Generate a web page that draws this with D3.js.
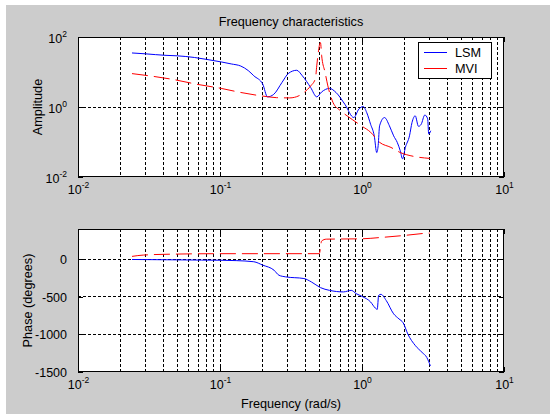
<!DOCTYPE html>
<html>
<head>
<meta charset="utf-8">
<script src="https://cdn.jsdelivr.net/npm/d3@7/dist/d3.min.js"></script>
<style>
  html, body { margin: 0; padding: 0; background: #ffffff; }
  svg { display: block; font-family: "Liberation Sans", Arial, sans-serif; }
</style>
</head>
<body>
<svg id="chart" width="550" height="414"></svg>
<script>
// Frequency response: amplitude (log-log) and phase, two identification methods
const seriesNames = ["LSM", "MVI"];

// LSM amplitude
const lsmAmpFreq = [0.024, 0.03, 0.041, 0.05, 0.066, 0.08, 0.102, 0.12, 0.14, 0.158, 0.173, 0.2, 0.216,
  0.239, 0.273, 0.304, 0.347, 0.38, 0.435, 0.48, 0.52, 0.59, 0.656, 0.757, 0.876, 0.95, 1.02, 1.08,
  1.15, 1.22, 1.27, 1.30, 1.33, 1.44, 1.56, 1.67, 1.77, 1.86, 1.93, 2.02, 2.16, 2.25, 2.37, 2.5,
  2.61, 2.77, 2.9, 2.95, 3.05];
const lsmAmp = [35, 33, 30, 29, 26, 23, 19.4, 17, 14.8, 11, 7.8, 4.5, 1.95,
  2.3, 5.0, 9.2, 11.2, 7.8, 3.6, 1.95, 2.7, 3.4, 2.6, 1.2, 0.5, 0.87, 1.03, 0.69,
  0.32, 0.15, 0.05, 0.08, 0.29, 0.5, 0.29, 0.15, 0.098, 0.056, 0.033, 0.07, 0.15, 0.36, 0.56, 0.28,
  0.32, 0.59, 0.46, 0.17, 0.21];

// MVI amplitude
const mviAmpFreq = [0.024, 0.048, 0.07, 0.102, 0.14, 0.216, 0.25, 0.31, 0.36, 0.39, 0.435, 0.47, 0.48,
  0.51, 0.52, 0.55, 0.575, 0.625, 0.7, 0.785, 0.99, 1.15, 1.33, 1.6, 1.86, 2.3, 3.0];
const mviAmp = [9.0, 6.0, 4.4, 3.4, 2.6, 1.97, 1.85, 1.82, 2.1, 2.6, 4.0, 6.5, 15,
  69, 29, 9.6, 4.0, 1.35, 0.8, 0.56, 0.29, 0.19, 0.098, 0.07, 0.05, 0.039, 0.034];

// LSM phase (degrees)
const lsmPhaseFreq = [0.024, 0.05, 0.074, 0.1, 0.13, 0.173, 0.2, 0.24, 0.26, 0.29, 0.39, 0.44, 0.51,
  0.59, 0.74, 0.84, 0.91, 1.0, 1.15, 1.24, 1.28, 1.31, 1.36, 1.48, 1.67, 1.82, 1.95, 2.1, 2.38,
  2.65, 2.86, 3.03];
const lsmPhase = [-5, -10, -13, -15, -20, -35, -80, -147, -214, -236, -258, -303, -379,
  -415, -436, -415, -459, -495, -570, -650, -668, -482, -468, -549, -727, -794, -847, -994, -1151,
  -1240, -1307, -1419];

// MVI phase (degrees)
const mviPhaseFreq = [0.024, 0.029, 0.05, 0.1, 0.5, 0.52, 0.56, 1.0, 1.33, 1.95, 2.86, 3.0];
const mviPhase = [36, 54, 67, 72, 72, 241, 265, 270, 286, 313, 344, 346];

// Axis ticks
const freqTicks = [0.01, 0.1, 1, 10];
const ampTicks = [0.01, 1, 100];
const phaseTicks = [-1500, -1000, -500, 0];

const titleText = "Frequency characteristics";
const xLabel = "Frequency (rad/s)";
const ampLabel = "Amplitude";
const phaseLabel = "Phase (degrees)";

const colors = { LSM: "#0000ff", MVI: "#ff0000" };
const dashMVI = "16,6";
const gridDash = "3,2";

const svg = d3.select("#chart");

// figure background
svg.append("rect").attr("x", 6).attr("y", 5).attr("width", 544).attr("height", 409).attr("fill", "#cccccc");

const left = 78, right = 504;
const x = d3.scaleLog().domain([0.01, 10]).range([left, right]);
const yAmp = d3.scaleLog().domain([0.01, 100]).range([177, 37]);
const yPh = d3.scaleLinear().domain([-1500, 400]).range([372, 229]);

// vertical grid positions: every 1..9 multiple inside each decade
const gridFreqs = [];
[0.01, 0.1, 1].forEach(d => { for (let k = 2; k <= 9; k++) gridFreqs.push(d * k); });
gridFreqs.push(0.1, 1);

function supLabel(sel, exp) {
  sel.text(null);
  sel.append("tspan").text("10");
  sel.append("tspan").attr("dy", -6).attr("font-size", 8.5).text(exp);
}

function panel(y, yTicks, yLog, label, labelX) {
  const [y0, y1] = y.range(); // bottom, top
  const g = svg.append("g");
  g.append("rect").attr("x", left).attr("y", y1).attr("width", right - left).attr("height", y0 - y1)
    .attr("fill", "#ffffff");

  // grid
  g.selectAll(".vg").data(gridFreqs).join("line")
    .attr("x1", d => x(d)).attr("x2", d => x(d)).attr("y1", y1).attr("y2", y0)
    .attr("stroke", "#000").attr("stroke-width", 1).attr("stroke-dasharray", gridDash)
    .attr("shape-rendering", "crispEdges");
  const yDom = y.domain();
  g.selectAll(".hg").data(yTicks.filter(v => v > yDom[0] && v < yDom[1])).join("line")
    .attr("x1", left).attr("x2", right).attr("y1", d => y(d)).attr("y2", d => y(d))
    .attr("stroke", "#000").attr("stroke-width", 1).attr("stroke-dasharray", gridDash)
    .attr("shape-rendering", "crispEdges");

  // axes with inward ticks
  const xa = g.append("g").attr("transform", `translate(0,${y0})`)
    .call(d3.axisBottom(x).tickValues(freqTicks).tickSizeInner(-5).tickSizeOuter(0).tickPadding(13));
  const xt = g.append("g").attr("transform", `translate(0,${y1})`)
    .call(d3.axisTop(x).tickValues(freqTicks).tickSizeInner(-5).tickSizeOuter(0).tickFormat(""));
  const ya = g.append("g").attr("transform", `translate(${left},0)`)
    .call(d3.axisLeft(y).tickValues(yTicks).tickSizeInner(-5).tickSizeOuter(0).tickPadding(11)
      .tickFormat(d => String(d)));
  const yr = g.append("g").attr("transform", `translate(${right},0)`)
    .call(d3.axisRight(y).tickValues(yTicks).tickSizeInner(-5).tickSizeOuter(0).tickFormat(""));
  [xa, xt, ya, yr].forEach(a => {
    a.select(".domain").remove();
    a.selectAll("line").attr("stroke", "#000").attr("shape-rendering", "crispEdges");
    a.selectAll("text").attr("font-size", 12.5).attr("fill", "#000")
      .attr("font-family", "'Liberation Sans', Arial, sans-serif");
  });
  xa.selectAll("text").attr("dy", "0.32em").attr("text-anchor", "middle")
    .each(function (d) { supLabel(d3.select(this), String(Math.round(Math.log10(d)))); });
  if (yLog) {
    ya.selectAll("text").attr("dy", "0.42em")
      .each(function (d) { supLabel(d3.select(this), String(Math.round(Math.log10(d)))); });
  } else {
    ya.selectAll("text").attr("dy", "0.36em");
  }

  // frame
  g.append("rect").attr("x", left + 0.5).attr("y", y1 + 0.5).attr("width", right - left - 1)
    .attr("height", y0 - y1 - 1).attr("fill", "none").attr("stroke", "#000");

  // y label
  g.append("text").attr("transform", `translate(${labelX},${(y0 + y1) / 2}) rotate(-90)`)
    .attr("text-anchor", "middle").attr("font-size", 12.7).text(label);
  return g;
}

const gTop = panel(yAmp, ampTicks, true, ampLabel, 42);
const gBot = panel(yPh, phaseTicks, false, phaseLabel, 32);

function drawLine(g, fx, fy, yScale, color, dash) {
  const pts = fx.map((f, i) => [f, fy[i]]);
  const line = d3.line().x(d => x(d[0])).y(d => yScale(d[1])).curve(d3.curveMonotoneX);
  g.append("path").datum(pts).attr("d", line).attr("fill", "none")
    .attr("stroke", color).attr("stroke-width", 1).attr("stroke-dasharray", dash || null);
}

drawLine(gTop, lsmAmpFreq, lsmAmp, yAmp, colors.LSM, null);
drawLine(gTop, mviAmpFreq, mviAmp, yAmp, colors.MVI, dashMVI);
drawLine(gBot, lsmPhaseFreq, lsmPhase, yPh, colors.LSM, null);
drawLine(gBot, mviPhaseFreq, mviPhase, yPh, colors.MVI, dashMVI);

// legend
const lg = svg.append("g").attr("transform", "translate(418,42)");
lg.append("rect").attr("x", 0.5).attr("y", 0.5).attr("width", 73).attr("height", 36)
  .attr("fill", "#ffffff").attr("stroke", "#000");
seriesNames.forEach((name, i) => {
  const yy = 10.5 + i * 16;
  lg.append("line").attr("x1", 6).attr("x2", 29).attr("y1", yy).attr("y2", yy)
    .attr("stroke", colors[name]).attr("stroke-width", 1)
    .attr("stroke-dasharray", name === "MVI" ? "23,6" : null);
  lg.append("text").attr("x", 37).attr("y", yy).attr("dy", "0.36em")
    .attr("font-size", 12.7).text(name);
});

// title and x label
svg.append("text").attr("x", (left + right) / 2).attr("y", 26).attr("text-anchor", "middle")
  .attr("font-size", 12.7).text(titleText);
svg.append("text").attr("x", (left + right) / 2).attr("y", 408).attr("text-anchor", "middle")
  .attr("font-size", 12.7).text(xLabel);
</script>
</body>
</html>
